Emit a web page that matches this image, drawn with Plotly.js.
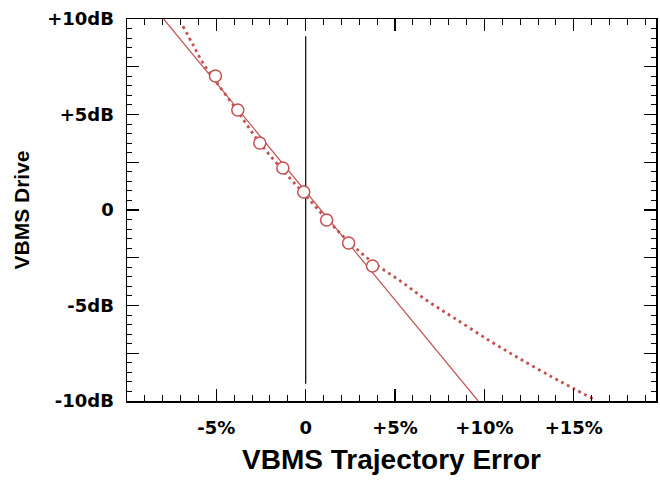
<!DOCTYPE html>
<html>
<head>
<meta charset="utf-8">
<script src="https://cdn.plot.ly/plotly-3.0.1.min.js"></script>
<style>html,body{margin:0;padding:0;background:#fff;}#chart{width:660px;height:480px;}</style>
</head>
<body>
<div id="chart"></div>
<script>
// Measured points (open circles)
const pointX = [-5.05, -3.8, -2.57, -1.28, -0.11, 1.17, 2.4, 3.74];
const pointY = [7.02, 5.24, 3.51, 2.2, 0.94, -0.52, -1.73, -2.93];

// Straight (solid) fit line
const lineX = [-7.95, 9.65];
const lineY = [10, -10];

// Curved (dotted) fit
const curveX = [-6.87, -6.3, -5.75, -5.0, -3.8, -2.6, -1.3, 0, 1.2, 2.4, 3.7, 5.3, 6.8, 8.3, 10.3, 12.0, 13.8, 15.0, 16.1];
const curveY = [9.63, 8.64, 7.7, 6.7, 5.15, 3.55, 2.1, 0.75, -0.5, -1.65, -2.7, -3.72, -4.75, -5.65, -6.85, -7.8, -8.75, -9.35, -9.9];

// Zero reference line
const zeroX = [0, 0];
const zeroY = [-9.1, 9.1];

// Tick labels
const xTickVals = [-5, 0, 5, 10, 15];
const xTickText = ['-5%', '0', '+5%', '+10%', '+15%'];
const yTickVals = [-10, -7.5, -5, -2.5, 0, 2.5, 5, 7.5, 10];
const yTickText = ['-10dB', '', '-5dB', '', '0', '', '+5dB', '', '+10dB'];

const red = '#c45050';

const traces = [
  {x: zeroX, y: zeroY, mode: 'lines', line: {color: '#000', width: 1.2}, hoverinfo: 'skip'},
  {x: lineX, y: lineY, mode: 'lines', line: {color: red, width: 1.2}},
  {x: curveX, y: curveY, mode: 'lines', line: {color: red, width: 2.8, dash: '2.8px,3.8px', shape: 'spline', smoothing: 1}},
  {x: pointX, y: pointY, mode: 'markers', marker: {symbol: 'circle', size: 12, color: '#fff', line: {color: red, width: 1.5}}}
];

const tickFont = {family: 'DejaVu Sans, Arial, sans-serif', size: 18, color: '#000', weight: 'bold'};

const layout = {
  width: 660, height: 480,
  margin: {l: 127, r: 4, t: 19, b: 79},
  paper_bgcolor: '#fff', plot_bgcolor: '#fff',
  showlegend: false,
  xaxis: {
    range: [-10, 19.6], showgrid: false, zeroline: false,
    showline: true, linecolor: '#000', linewidth: 1.5, mirror: 'ticks',
    tickmode: 'array', tickvals: xTickVals, ticktext: xTickText,
    ticks: 'inside', ticklen: 12, tickwidth: 1.3, tickcolor: '#000',
    minor: {tickmode: 'linear', tick0: 0, dtick: 1, ticks: 'inside', ticklen: 6, tickwidth: 1, tickcolor: '#000', showgrid: false},
    tickfont: tickFont, ticklabelstandoff: 10,
    title: {text: 'VBMS Trajectory Error', font: {family: 'Liberation Sans, Arial, sans-serif', size: 28, color: '#000', weight: 'bold'}, standoff: 12}
  },
  yaxis: {
    range: [-10, 10], showgrid: false, zeroline: false,
    showline: true, linecolor: '#000', linewidth: 1.5, mirror: 'ticks',
    tickmode: 'array', tickvals: yTickVals, ticktext: yTickText,
    ticks: 'inside', ticklen: 12, tickwidth: 1.3, tickcolor: '#000',
    minor: {tickmode: 'linear', tick0: 0, dtick: 0.5, ticks: 'inside', ticklen: 5, tickwidth: 1, tickcolor: '#000', showgrid: false},
    tickfont: tickFont, ticklabelstandoff: 8,
    title: {text: 'VBMS Drive', font: {family: 'Liberation Sans, Arial, sans-serif', size: 21, color: '#000', weight: 'bold'}, standoff: 12}
  }
};

Plotly.newPlot('chart', traces, layout, {staticPlot: true, displayModeBar: false});
</script>
</body>
</html>
